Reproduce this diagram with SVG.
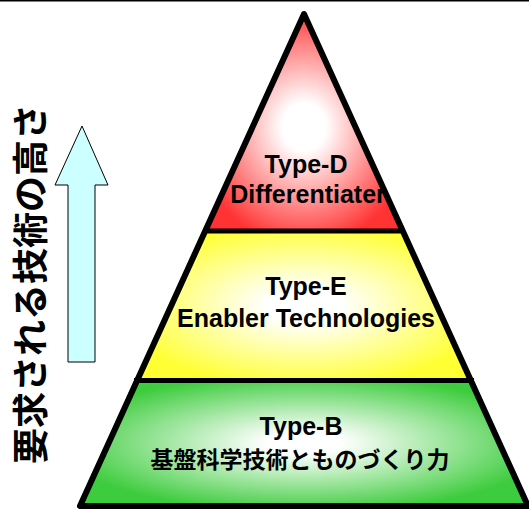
<svg xmlns="http://www.w3.org/2000/svg" width="529" height="510" viewBox="0 0 529 510">
<style>
.lbl{font-family:"Liberation Sans","Noto Sans CJK JP",Arial,sans-serif;font-weight:bold;font-size:25px;fill:#000;text-anchor:middle}
.jp{font-family:"Noto Sans CJK JP","Liberation Sans",sans-serif;font-weight:bold;font-size:23px;fill:#000;text-anchor:middle}
.edge{fill:none;stroke:#000;stroke-width:6;stroke-linejoin:round}
.div{stroke:#000;stroke-width:5}
</style>
<defs>
<radialGradient id="gRed" cx="0.5" cy="0.52" r="0.55">
<stop offset="0" stop-color="#ffffff"/><stop offset="0.2" stop-color="#ffffff"/><stop offset="1" stop-color="#ff3333"/>
</radialGradient>
<radialGradient id="gYel" cx="0.5" cy="0.5" r="0.55">
<stop offset="0" stop-color="#ffffff"/><stop offset="0.2" stop-color="#ffffff"/><stop offset="1" stop-color="#ffff33"/>
</radialGradient>
<radialGradient id="gGrn" cx="0.5" cy="0.5" r="0.55">
<stop offset="0" stop-color="#ffffff"/><stop offset="0.15" stop-color="#ffffff"/><stop offset="1" stop-color="#3dcc3d"/>
</radialGradient>
</defs>
<rect x="0" y="0" width="529" height="1.5" fill="#000"/>
<g id="typeD">
<polygon points="304,14 205,231 403,231" fill="url(#gRed)"/>
<text class="lbl" x="306" y="173">Type-D</text>
<text class="lbl" x="308" y="203">Differentiater</text>
</g>
<g id="typeE">
<polygon points="205,231 403,231 474,380.5 134,380.5" fill="url(#gYel)"/>
<text class="lbl" x="306" y="295">Type-E</text>
<text class="lbl" x="306" y="327">Enabler Technologies</text>
</g>
<g id="typeB">
<polygon points="134,380.5 474,380.5 528,506 80,506" fill="url(#gGrn)"/>
<text class="lbl" x="301" y="435">Type-B</text>
<text class="jp" x="300" y="468">基盤科学技術とものづくり力</text>
</g>
<g id="outline">
<line class="div" x1="205" y1="231" x2="403" y2="231"/>
<line class="div" x1="134" y1="380.5" x2="474" y2="380.5"/>
<polygon class="edge" points="304,14 80,506 528,506"/>
</g>
<g id="arrow">
<polygon points="82,126 108,185 95,185 95,362 68,362 68,185 55,185" fill="#ccffff" stroke="#000" stroke-width="1"/>
</g>
<g id="axisLabel">
<text transform="translate(28,284) rotate(-90)" x="0" y="0" dominant-baseline="central" text-anchor="middle" style="font-family:'Noto Sans CJK JP',sans-serif;font-size:36px;font-weight:bold;fill:#000">要求される技術の高さ</text>
</g>
<g id="connectors"></g>
</svg>
